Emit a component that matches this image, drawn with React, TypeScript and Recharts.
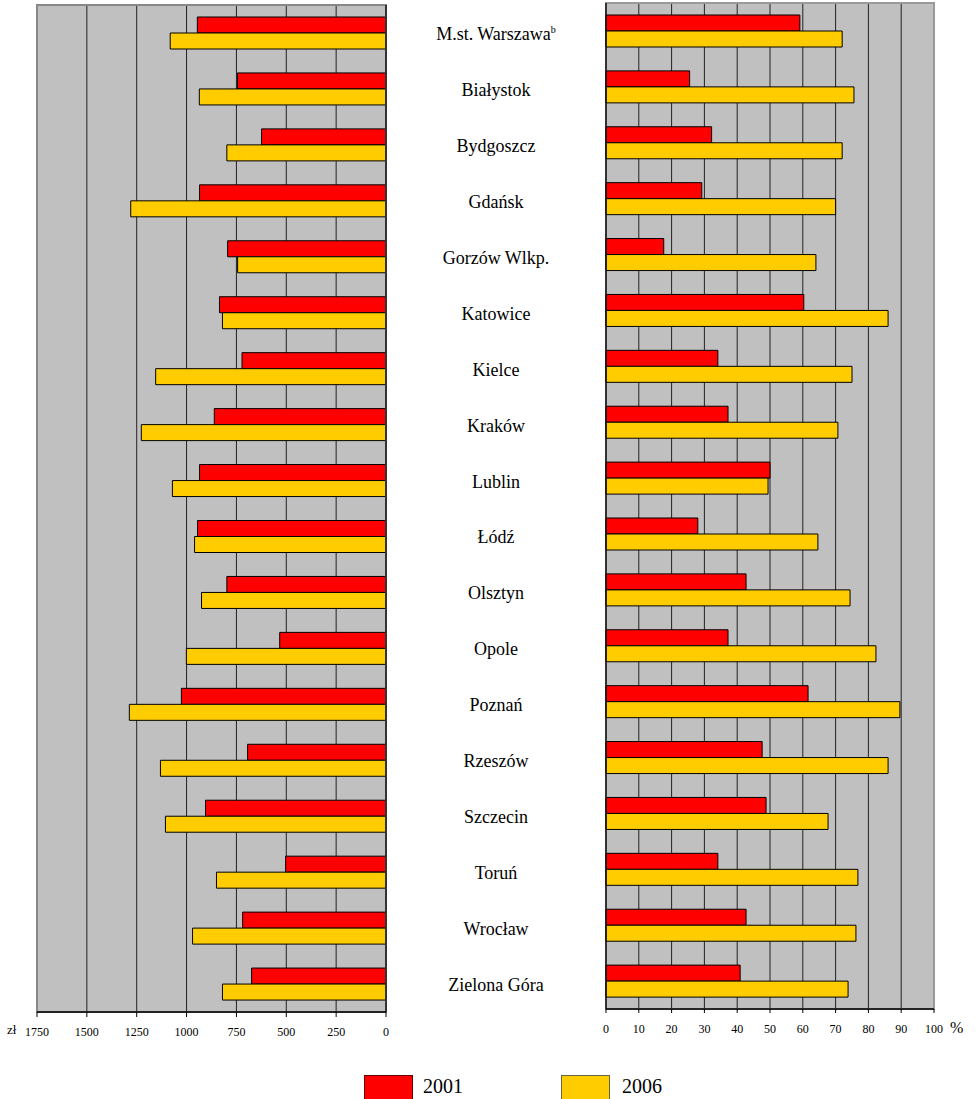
import React from 'react';
import { BarChart, Bar, XAxis, YAxis, CartesianGrid, ReferenceLine, ReferenceArea } from 'recharts';

const categories = [
  'M.st. Warszawa', 'Białystok', 'Bydgoszcz', 'Gdańsk', 'Gorzów Wlkp.', 'Katowice', 'Kielce', 'Kraków',
  'Lublin', 'Łódź', 'Olsztyn', 'Opole', 'Poznań', 'Rzeszów', 'Szczecin', 'Toruń', 'Wrocław', 'Zielona Góra',
];
const footnotes: Record<string, string> = { 'M.st. Warszawa': 'b' };

const zl2001 = [946, 745, 624, 935, 794, 835, 722, 861, 935, 945, 798, 533, 1026, 694, 905, 503, 719, 674];
const zl2006 = [1082, 936, 798, 1280, 744, 820, 1155, 1227, 1071, 960, 925, 1001, 1287, 1131, 1106, 850, 970, 820];
const pct2001 = [59.1, 25.5, 32.2, 29.2, 17.6, 60.3, 34.1, 37.2, 50.0, 28.0, 42.7, 37.2, 61.6, 47.6, 48.8, 34.1, 42.7, 40.9];
const pct2006 = [72.0, 75.6, 72.0, 70.0, 64.0, 86.0, 75.0, 70.7, 49.4, 64.6, 74.4, 82.3, 89.6, 86.0, 67.7, 76.8, 76.2, 73.8];

const zlTicks = [0, 250, 500, 750, 1000, 1250, 1500, 1750];
const pctTicks = [0, 10, 20, 30, 40, 50, 60, 70, 80, 90, 100];
const seriesNames = ['2001', '2006'];

const RED = '#FF0000';
const YELLOW = '#FFCC00';
const FONT = "'Liberation Serif', 'DejaVu Serif', serif";
const LABEL_X = 496;

const zlData = categories.map((name, i) => ({ name, a: zl2001[i], b: zl2006[i] }));
const pctData = categories.map((name, i) => ({ name, a: pct2001[i], b: pct2006[i] }));

const CategoryTick = (props: any) => {
  const { y, payload } = props;
  const note = footnotes[payload.value];
  return (
    <text x={LABEL_X} y={y} dy={7} textAnchor="middle" style={{ fontFamily: FONT, fontSize: 18 }} fill="#000">
      {payload.value}
      {note ? (
        <tspan dy={-7} style={{ fontSize: 10 }}>{note}</tspan>
      ) : null}
    </text>
  );
};

const tickStyle = { fontSize: 12, fill: '#000', fontFamily: FONT, style: { fontFamily: FONT } };

export default function App() {
  return (
    <div style={{ position: 'absolute', left: 0, top: 0, width: 977, height: 1099, background: '#fff', fontFamily: FONT }}>
      <div style={{ position: 'absolute', left: 0, top: 0 }}>
        <BarChart
          width={606}
          height={1050}
          layout="vertical"
          data={zlData}
          margin={{ top: 5, right: 0, left: 37, bottom: 8 }}
          barGap={0}
          barSize={16}
          style={{ fontFamily: FONT }}
        >
          <CartesianGrid horizontal={false} vertical stroke="#222" fill="#C0C0C0" fillOpacity={1} />
          <XAxis
            type="number"
            dataKey="a"
            domain={[0, 1750]}
            ticks={zlTicks}
            interval={0}
            reversed
            height={30}
            tick={tickStyle}
            tickSize={5}
            tickMargin={10}
            axisLine={{ stroke: '#000', strokeWidth: 1.5 }}
            tickLine={{ stroke: '#000' }}
          />
          <YAxis
            type="category"
            dataKey="name"
            orientation="right"
            width={220}
            axisLine={false}
            tickLine={false}
            interval={0}
            tick={<CategoryTick />}
          />
          <ReferenceArea x1={0} x2={1750} fill="none" stroke="#888" strokeWidth={2} ifOverflow="visible" />
          <ReferenceLine x={0} stroke="#333" strokeWidth={2} />
          <Bar dataKey="a" name={seriesNames[0]} fill={RED} stroke="#000" strokeWidth={1} isAnimationActive={false} />
          <Bar dataKey="b" name={seriesNames[1]} fill={YELLOW} stroke="#000" strokeWidth={1} isAnimationActive={false} />
        </BarChart>
      </div>
      <div style={{ position: 'absolute', left: 586, top: 0 }}>
        <BarChart
          width={391}
          height={1050}
          layout="vertical"
          data={pctData}
          margin={{ top: 3, right: 43, left: 20, bottom: 11 }}
          barGap={0}
          barSize={16}
          style={{ fontFamily: FONT }}
        >
          <CartesianGrid horizontal={false} vertical stroke="#222" fill="#C0C0C0" fillOpacity={1} />
          <XAxis
            type="number"
            dataKey="a"
            domain={[0, 100]}
            ticks={pctTicks}
            interval={0}
            height={30}
            tick={tickStyle}
            tickSize={4}
            tickMargin={11}
            axisLine={{ stroke: '#000', strokeWidth: 1.5 }}
            tickLine={{ stroke: '#000' }}
          />
          <YAxis type="category" dataKey="name" hide />
          <ReferenceArea x1={0} x2={100} fill="none" stroke="#999" strokeWidth={2} ifOverflow="visible" />
          <ReferenceLine x={0} stroke="#111" strokeWidth={1.5} />
          <Bar dataKey="a" name={seriesNames[0]} fill={RED} stroke="#000" strokeWidth={1} isAnimationActive={false} />
          <Bar dataKey="b" name={seriesNames[1]} fill={YELLOW} stroke="#000" strokeWidth={1} isAnimationActive={false} />
        </BarChart>
      </div>
      <div style={{ position: 'absolute', left: 7, top: 1022, fontSize: 13, color: '#000' }}>zł</div>
      <div style={{ position: 'absolute', left: 950, top: 1019, fontSize: 16, color: '#000' }}>%</div>
      <div style={{ position: 'absolute', left: 364, top: 1075, width: 47, height: 23, background: RED, border: '1px solid #600' }} />
      <div style={{ position: 'absolute', left: 423, top: 1074, fontSize: 20, color: '#000', lineHeight: '24px' }}>{seriesNames[0]}</div>
      <div style={{ position: 'absolute', left: 561, top: 1075, width: 47, height: 23, background: YELLOW, border: '1px solid #664' }} />
      <div style={{ position: 'absolute', left: 622, top: 1074, fontSize: 20, color: '#000', lineHeight: '24px' }}>{seriesNames[1]}</div>
    </div>
  );
}
